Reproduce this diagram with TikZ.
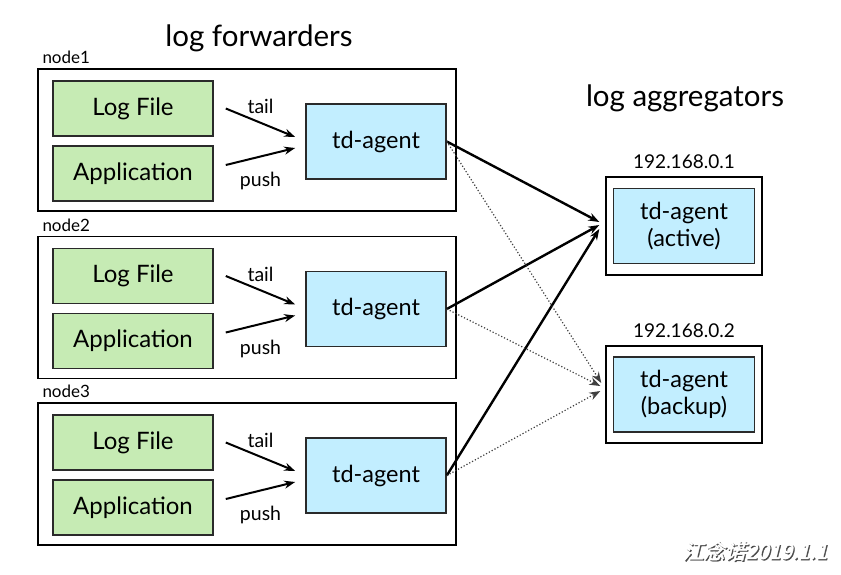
\documentclass[tikz,border=0pt]{standalone}
\usepackage{fontspec}
\setmainfont{Lato}
\newfontfamily\cjkfont[FakeSlant=0.25,FakeBold=1.5]{Noto Sans CJK SC}
\usetikzlibrary{arrows.meta,positioning,calc}

\definecolor{srcgreen}{HTML}{C6EBB4}
\definecolor{agentblue}{HTML}{C2EEFF}
\definecolor{boxline}{HTML}{2A2A2A}

\begin{document}
\begin{tikzpicture}[
  x=1pt, y=-1pt, >={Stealth[length=11pt,width=8pt]},
  hostbox/.style={rectangle, draw=black, line width=1.4pt, fill=white},
  srcbox/.style={rectangle, draw=boxline, line width=1.6pt, fill=srcgreen, minimum width=160pt, minimum height=55pt, font=\fontsize{24}{28}\selectfont},
  agentbox/.style={rectangle, draw=boxline, line width=1.6pt, fill=agentblue, minimum width=140pt, minimum height=75pt, align=center, font=\fontsize{23.5}{27}\selectfont},
  lab/.style={font=\fontsize{19.5}{22}\selectfont, inner sep=1pt},
  hostlab/.style={font=\fontsize{17}{20}\selectfont, inner sep=1pt},
  title/.style={font=\fontsize{29.5}{34}\selectfont},
  flow/.style={->, line width=2.4pt},
  standby/.style={->, line width=1.2pt, dotted, draw=black!75}
]
\useasboundingbox (0,0) rectangle (841,574);

\node[title] (fwd) at (259,38) {log forwarders};
\node[title] (agg) at (685,98) {log aggregators};

% aggregators
\node[hostbox, minimum width=156pt, minimum height=98pt] (h1) at (684,226) {};
\node[agentbox, minimum width=141pt] (act) at (h1.center) {td-agent\\(active)};
\node[hostlab, font=\fontsize{19}{22}\selectfont, above=6pt of h1] (ip1) {192.168.0.1};

\node[hostbox, minimum width=156pt, minimum height=97pt] (h2) at (684,394.5) {};
\node[agentbox, minimum width=141pt] (bak) at (h2.center) {td-agent\\(backup)};
\node[hostlab, font=\fontsize{19}{22}\selectfont, above=6pt of h2] (ip2) {192.168.0.2};

% forwarders
\foreach \i/\dy in {1/0, 2/167.5, 3/334}{
  \node[hostbox, minimum width=418pt, minimum height=142pt] (n\i) at (247,140+\dy) {};
  \node[hostlab, anchor=south west] at ([xshift=4pt,yshift=3pt]n\i.north west) {node\i};
  \node[srcbox] (log\i) at (133,108.5+\dy) {Log File};
  \node[srcbox] (app\i) at (133,173.5+\dy) {Application};
  \node[agentbox] (td\i) at (376,141.5+\dy) {td-agent};
  \draw[flow, line width=2pt] ([xshift=12pt]log\i.east) -- node[lab, above=7pt]{tail} ([xshift=-10pt,yshift=4.5pt]td\i.west);
  \draw[flow, line width=2pt] ([xshift=12pt,yshift=8.5pt]app\i.east) -- node[lab, below=14pt]{push} ([xshift=-10pt,yshift=-6.5pt]td\i.west);
}

\draw[flow] (td1.east) -- ([xshift=-6pt,yshift=4pt]h1.west);
\draw[flow] (td2.east) -- ([xshift=-6pt,yshift=1pt]h1.west);
\draw[flow] (td3.east) -- ([xshift=-6pt,yshift=-3pt]h1.west);

\draw[standby] (td1.east) -- ([xshift=-4pt,yshift=11.5pt]h2.west);
\draw[standby] (td2.east) -- ([xshift=-5pt,yshift=8.5pt]h2.west);
\draw[standby] (td3.east) -- ([xshift=-5pt,yshift=3.5pt]h2.west);

% watermark
\node[font=\cjkfont\fontsize{21}{24}\selectfont, text=black!70] (wm) at (756,552) {江念诺2019.1.1};
\node[font=\cjkfont\fontsize{21}{24}\selectfont, text=white] at ([xshift=-1.2pt,yshift=1.2pt]wm.center) {江念诺2019.1.1};
\end{tikzpicture}
\end{document}
